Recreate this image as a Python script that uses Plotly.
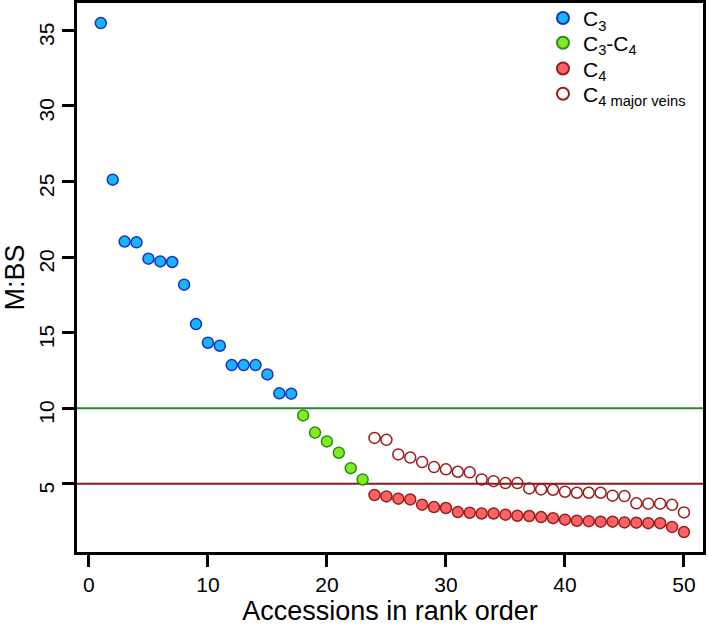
import plotly.graph_objects as go

# ---- data ----
c3_x = list(range(1, 18))
c3_y = [35.48, 25.12, 21.02, 20.97, 19.89, 19.71, 19.67, 18.17, 15.56, 14.33,
        14.13, 12.85, 12.85, 12.85, 12.23, 10.98, 10.96]

c3c4_x = list(range(18, 24))
c3c4_y = [9.52, 8.38, 7.80, 7.05, 6.03, 5.28]

c4_x = list(range(24, 51))
c4_y = [4.25, 4.16, 4.01, 3.96, 3.61, 3.45, 3.39, 3.12, 3.08, 3.03, 3.03, 2.95,
        2.88, 2.86, 2.79, 2.72, 2.62, 2.55, 2.52, 2.49, 2.49, 2.44, 2.42, 2.39,
        2.39, 2.14, 1.80]

c4mv_x = list(range(24, 51))
c4mv_y = [8.03, 7.90, 6.94, 6.73, 6.43, 6.10, 5.95, 5.79, 5.75, 5.28, 5.17, 5.04,
          5.04, 4.69, 4.62, 4.60, 4.47, 4.40, 4.40, 4.40, 4.21, 4.18, 3.70, 3.68,
          3.68, 3.60, 3.10]

series_names = ["C<sub>3</sub>", "C<sub>3</sub>-C<sub>4</sub>",
                "C<sub>4</sub>", "C<sub>4 major veins</sub>"]

thresholds = [10, 5]
x_ticks = [0, 10, 20, 30, 40, 50]
y_ticks = [5, 10, 15, 20, 25, 30, 35]

FONT = "Liberation Sans, Arial, sans-serif"

fig = go.Figure()

fig.add_trace(go.Scatter(
    x=c3_x, y=c3_y, mode="markers", name=series_names[0], legend="legend",
    marker=dict(symbol="circle", size=11, color="#1AB4FF",
                line=dict(color="#1830C8", width=1.5))))
fig.add_trace(go.Scatter(
    x=c3c4_x, y=c3c4_y, mode="markers", name=series_names[1], legend="legend2",
    marker=dict(symbol="circle", size=11, color="#80EE1A",
                line=dict(color="#2A8A1A", width=1.5))))
fig.add_trace(go.Scatter(
    x=c4_x, y=c4_y, mode="markers", name=series_names[2], legend="legend3",
    marker=dict(symbol="circle", size=11, color="#FA6464",
                line=dict(color="#9B1B1B", width=1.5))))
fig.add_trace(go.Scatter(
    x=c4mv_x, y=c4mv_y, mode="markers", name=series_names[3], legend="legend4",
    marker=dict(symbol="circle-open", size=11, color="#9B1B1B",
                line=dict(color="#9B1B1B", width=1.5))))

line_colors = ["#228B22", "#8B1A1A"]
for yv, col in zip(thresholds, line_colors):
    fig.add_hline(y=yv, line=dict(color=col, width=2), layer="below")

axis_common = dict(
    showline=True, linecolor="black", linewidth=2.5, mirror=True,
    ticks="outside", ticklen=12, tickwidth=2.5, tickcolor="black",
    showgrid=False, zeroline=False, automargin=False,
    tickfont=dict(family=FONT, size=21, color="black"),
)


def legend_box(yp):
    return dict(x=0.7444, y=yp, xanchor="left", yanchor="middle",
                bgcolor="rgba(0,0,0,0)", borderwidth=0,
                font=dict(family=FONT, size=21, color="black"),
                itemsizing="constant")


fig.update_layout(
    width=709, height=633,
    margin=dict(l=77, r=6, t=3, b=81, autoexpand=False),
    paper_bgcolor="white", plot_bgcolor="white",
    font=dict(family=FONT, color="black"),
    showlegend=True,
    legend=legend_box(0.972),
    legend2=legend_box(0.927),
    legend3=legend_box(0.880),
    legend4=legend_box(0.834),
    xaxis=dict(range=[-1.0, 51.6], tickvals=x_ticks, ticklabelstandoff=0,
               title=dict(text="Accessions in rank order",
                          font=dict(family=FONT, size=27, color="black"),
                          standoff=2),
               **axis_common),
    yaxis=dict(range=[0.48, 36.81], tickvals=y_ticks, tickangle=-90,
               ticklabelstandoff=0, ticklabelshift=7,
               title=dict(text="M:BS",
                          font=dict(family=FONT, size=27, color="black"),
                          standoff=6),
               **axis_common),
)

fig.write_html("out.html",
               config={"displayModeBar": False},
               post_script="document.body.style.margin='0px';")
